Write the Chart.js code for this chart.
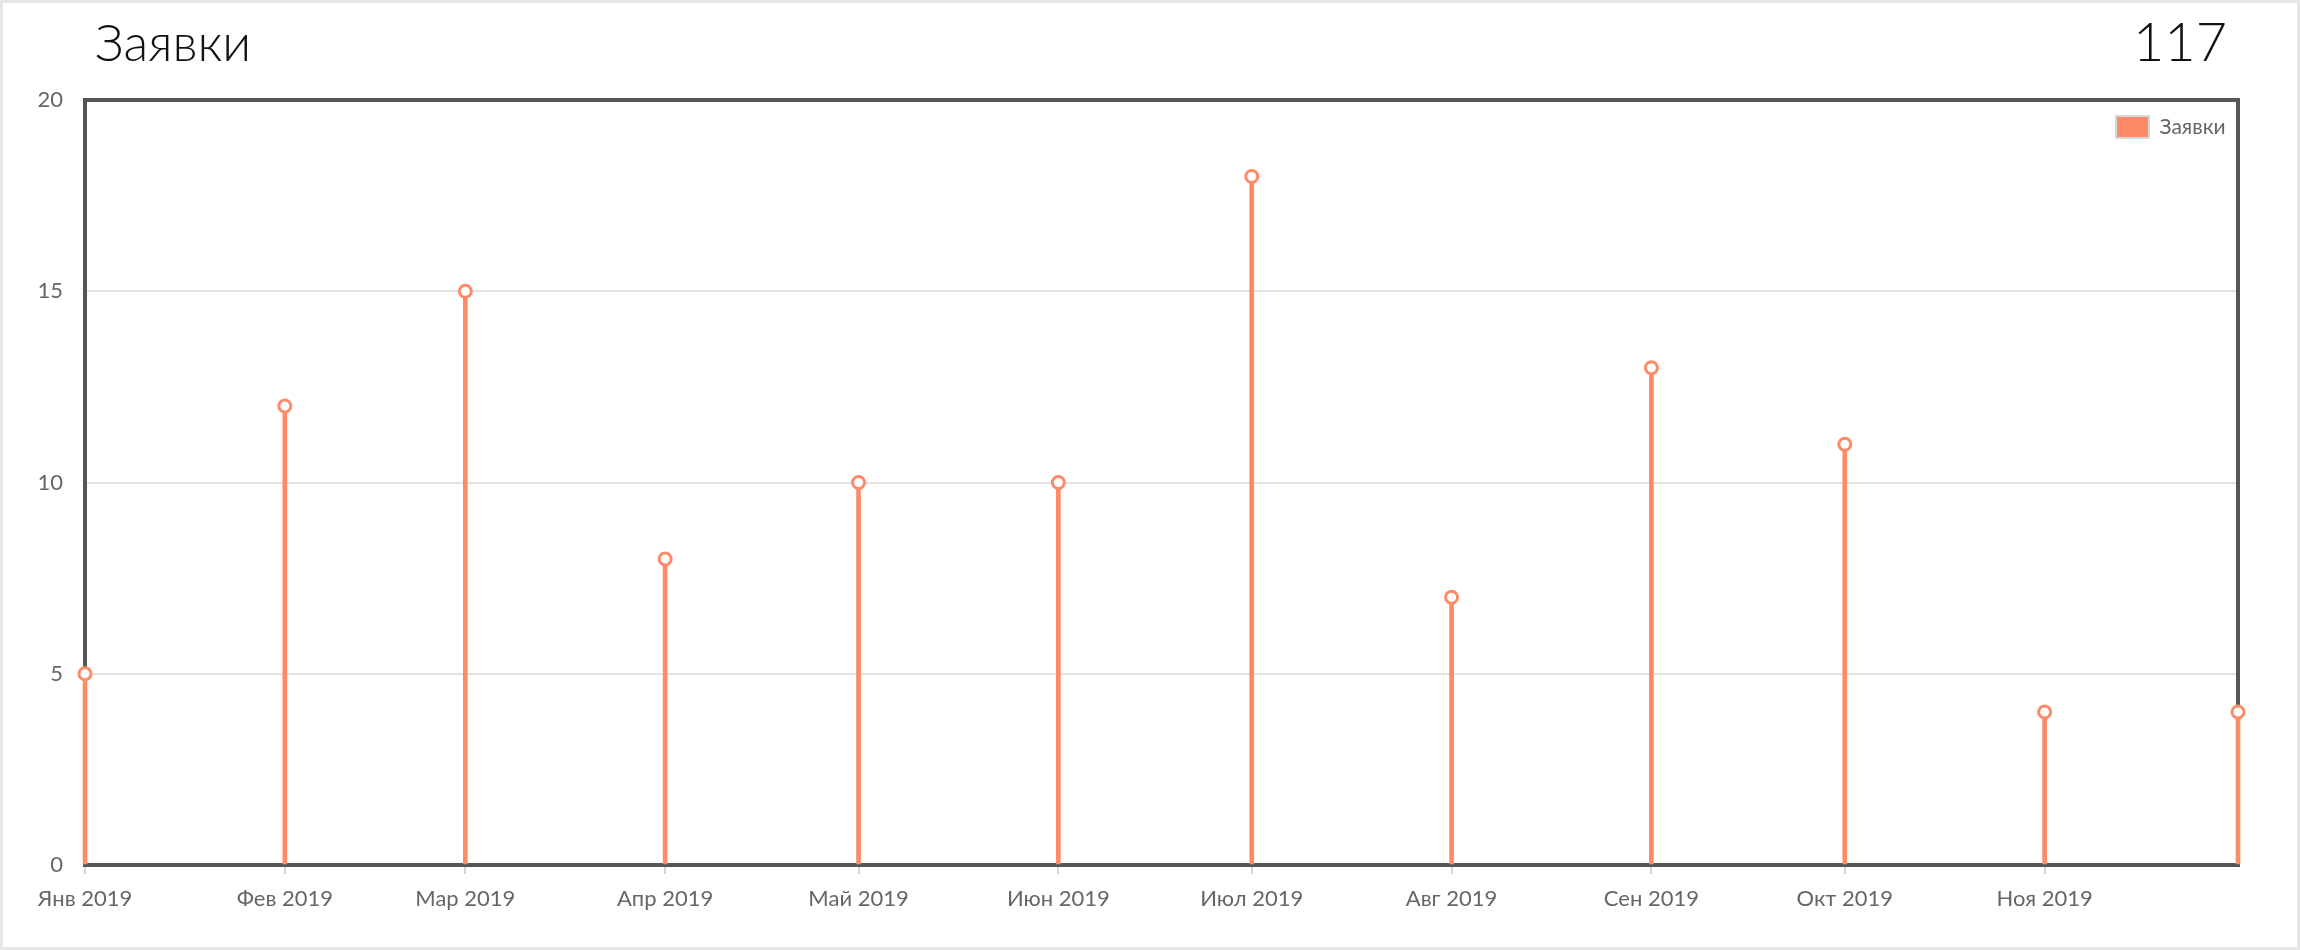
<!DOCTYPE html>
<html>
<head>
<meta charset="utf-8">
<script src="https://cdn.jsdelivr.net/npm/chart.js@4"></script>
<style>
  html, body { margin: 0; padding: 0; background: #fff; }
  #wrap { position: relative; width: 2300px; height: 950px; overflow: hidden; }
  #frame { position: absolute; left: 0; top: 0; width: 2300px; height: 950px; box-sizing: border-box;
           border: 3px solid #e6e6e6; pointer-events: none; }
  canvas { position: absolute; left: 0; top: 0; }
  .head { position: absolute; top: 16px; font-family: Lato, sans-serif; font-weight: 300;
          font-size: 51px; line-height: 51px; color: #111; }
  #title { left: 95px; }
  #total { right: 73px; font-size: 54px; line-height: 54px; top: 14px; }
</style>
</head>
<body>
<div id="wrap">
  <canvas id="myChart" width="2300" height="950"></canvas>
  <div class="head" id="title">Заявки</div>
  <div class="head" id="total">117</div>
  <div id="frame"></div>
</div>
<script>
var months = ['2019-01-01', '2019-02-01', '2019-03-01', '2019-04-01', '2019-05-01', '2019-06-01',
              '2019-07-01', '2019-08-01', '2019-09-01', '2019-10-01', '2019-11-01', '2019-12-01'];
var monthLabels = ['Янв 2019', 'Фев 2019', 'Мар 2019', 'Апр 2019', 'Май 2019', 'Июн 2019',
                   'Июл 2019', 'Авг 2019', 'Сен 2019', 'Окт 2019', 'Ноя 2019', 'Дек 2019'];
var requests = [5, 12, 15, 8, 10, 10, 18, 7, 13, 11, 4, 4];
var yTicks = [0, 5, 10, 15, 20];

var coral = '#ff8a68';

// days since the first month, so the x axis keeps real month lengths
function dayOf(s) {
    return (Date.parse(s) - Date.parse(months[0])) / 86400000;
}
var days = months.map(dayOf);
var points = days.map(function(d, i) { return { x: d, y: requests[i] }; });

// plot frame is drawn under the stems, like the original
var framePlugin = {
    id: 'frame',
    beforeDatasetsDraw: function(chart) {
        var a = chart.chartArea, c = chart.ctx;
        c.save();
        c.strokeStyle = '#555';
        c.lineWidth = 4;
        c.strokeRect(a.left, a.top, a.right - a.left, a.bottom - a.top);
        c.restore();
    }
};

// legend sits inside the plot, top right corner
var legendCorner = {
    id: 'legendCorner',
    afterLayout: function(chart) {
        var lg = chart.legend, a = chart.chartArea;
        var w = 130, h = 40;
        lg.left = a.right - w;
        lg.right = a.right;
        lg.top = a.top + 8;
        lg.bottom = lg.top + h;
        lg.width = w;
        lg.height = h;
    }
};

var ctx = document.getElementById('myChart').getContext('2d');
var myChart = new Chart(ctx, {
    data: {
        datasets: [{
            type: 'bar',
            label: 'Заявки',
            data: points,
            backgroundColor: coral,
            barThickness: 4,
            clip: false,
            order: 2
        }, {
            type: 'line',
            label: 'points',
            data: points,
            showLine: false,
            pointRadius: 6,
            pointHoverRadius: 6,
            pointBorderWidth: 3,
            pointBackgroundColor: '#fff',
            pointBorderColor: coral,
            clip: false,
            order: 1
        }]
    },
    options: {
        responsive: false,
        animation: false,
        devicePixelRatio: 1,
        layout: { padding: { left: 0, right: 62, top: 100, bottom: 25 } },
        plugins: {
            tooltip: { enabled: false },
            legend: {
                position: 'chartArea',
                align: 'start',
                labels: {
                    boxWidth: 33,
                    boxHeight: 22,
                    padding: 8,
                    color: '#666',
                    font: { family: 'Lato', size: 21 },
                    filter: function(item) { return item.datasetIndex === 0; },
                    generateLabels: function(chart) {
                        return [{
                            text: 'Заявки',
                            fillStyle: coral,
                            strokeStyle: '#d8d8d8',
                            lineWidth: 2,
                            fontColor: '#666',
                            datasetIndex: 0
                        }];
                    }
                }
            }
        },
        scales: {
            x: {
                type: 'linear',
                offset: false,
                min: days[0],
                max: days[days.length - 1],
                afterFit: function(scale) { scale.height = 60; },
                afterBuildTicks: function(scale) {
                    scale.ticks = days.slice(0, 11).map(function(d) { return { value: d }; });
                },
                ticks: {
                    autoSkip: false,
                    maxRotation: 0,
                    padding: 12,
                    color: '#666',
                    font: { family: 'Lato', size: 22 },
                    callback: function(value) {
                        var i = days.indexOf(value);
                        return i >= 0 ? monthLabels[i] : '';
                    }
                },
                grid: {
                    offset: false,
                    drawOnChartArea: false,
                    drawTicks: true,
                    tickLength: 9,
                    color: '#d6d6d6',
                    lineWidth: 2
                },
                border: { display: false }
            },
            y: {
                min: 0,
                max: 20,
                afterFit: function(scale) { scale.width = 85; },
                afterBuildTicks: function(scale) {
                    scale.ticks = yTicks.map(function(v) { return { value: v }; });
                },
                ticks: {
                    padding: 22,
                    color: '#666',
                    font: { family: 'Lato', size: 22 }
                },
                grid: {
                    drawTicks: false,
                    color: '#e2e2e2',
                    lineWidth: 2
                },
                border: { display: false }
            }
        }
    },
    plugins: [framePlugin, legendCorner]
});
</script>
</body>
</html>
